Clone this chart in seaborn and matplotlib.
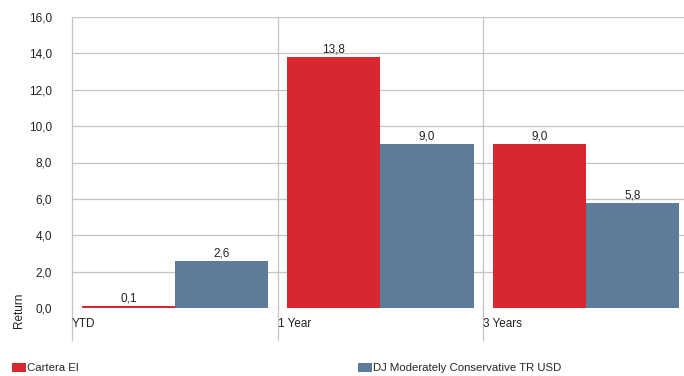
import matplotlib
matplotlib.use("Agg")
import matplotlib.pyplot as plt
import seaborn as sns
import pandas as pd

categories = ["YTD", "1 Year", "3 Years"]
series_names = ["Cartera EI", "DJ Moderately Conservative TR USD"]
cartera = [0.1, 13.8, 9.0]
dj_index = [2.6, 9.0, 5.8]
y_ticks = [0, 2, 4, 6, 8, 10, 12, 14, 16]

RED = "#d8272e"
BLUE = "#5c7c9a"
GRID = "#c4c4c4"
TXT = "#222222"

df = pd.DataFrame({
    "Period": categories * 2,
    "Series": [series_names[0]] * 3 + [series_names[1]] * 3,
    "Return": cartera + dj_index,
})

sns.set_style("white")
plt.rcParams["font.family"] = ["Liberation Sans", "DejaVu Sans"]

fig = plt.figure(figsize=(6.84, 3.76), dpi=100)
ax = fig.add_axes([72 / 684, 1 - 308 / 376, 1 - 72 / 684, 291 / 376])

sns.barplot(data=df, x="Period", y="Return", hue="Series", order=categories,
            hue_order=series_names, palette=[RED, BLUE], width=0.905, gap=0,
            saturation=1, linewidth=0, ax=ax)

# value labels with comma decimals
for cont in ax.containers:
    ax.bar_label(cont, labels=[f"{v:.1f}".replace(".", ",") for v in cont.datavalues],
                 padding=1, fontsize=8.5, color=TXT)

ax.set_ylim(0, 16)
ax.set_xlim(-0.5, 2.476)
ax.set_yticks(y_ticks)
ax.set_yticklabels([f"{t:.1f}".replace(".", ",") for t in y_ticks], fontsize=8.5, color=TXT)
ax.yaxis.grid(True, color=GRID, linewidth=0.9)
ax.tick_params(axis="y", length=7.2, color=GRID, width=0.9, pad=7)

# category labels sit at the left boundary of each group
bounds = [-0.5, 0.5, 1.5]
ax.set_xticks(bounds)
ax.set_xticklabels(categories, ha="left", fontsize=8.5, color=TXT)
ax.tick_params(axis="x", length=0, pad=7)
for b in bounds:
    ax.plot([b, b], [1, -0.11], transform=ax.get_xaxis_transform(), color=GRID,
            linewidth=0.9, clip_on=False, zorder=0)

ax.set_xlabel("")
ax.set_ylabel("Return", fontsize=8.5, color=TXT)
ax.yaxis.set_label_coords(-0.077, -0.007)

for s in ax.spines.values():
    s.set_visible(False)

handles, labels = ax.get_legend_handles_labels()
ax.get_legend().remove()
leg_kw = dict(frameon=False, fontsize=8.2, handlelength=1.2, handleheight=0.8,
              handletextpad=0.1, borderaxespad=0, borderpad=0)
fig.legend(handles[:1], labels[:1], loc="center left",
           bbox_to_anchor=(12 / 684, 1 - 368 / 376), **leg_kw)
fig.legend(handles[1:], labels[1:], loc="center left",
           bbox_to_anchor=(358 / 684, 1 - 368 / 376), **leg_kw)

fig.savefig("out.png", dpi=100)
